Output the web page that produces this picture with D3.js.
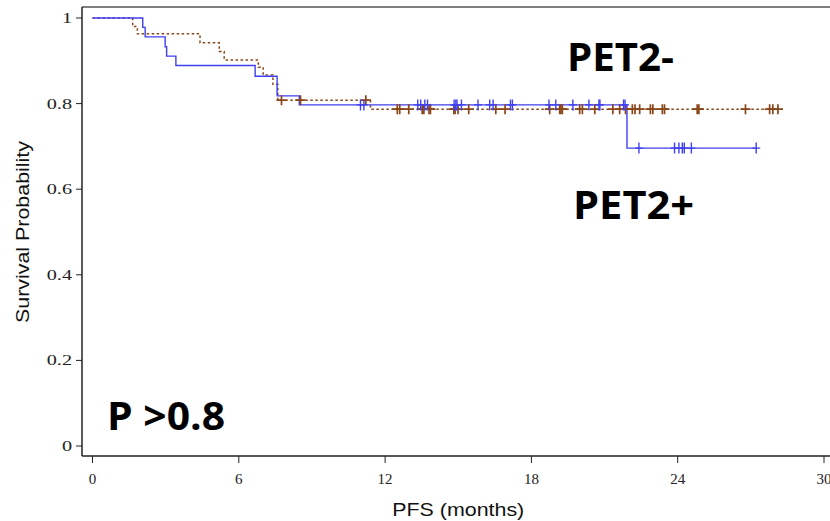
<!DOCTYPE html>
<html>
<head>
<meta charset="utf-8">
<script src="https://cdn.jsdelivr.net/npm/d3@7"></script>
<style>
  body { margin: 0; background: #fff; }
  svg { display: block; }
  .tick-label { font-family: "Liberation Serif", serif; font-size: 15px; fill: #222; }
  .axis-title { font-family: "Liberation Sans", Arial, sans-serif; font-size: 19px; fill: #111; }
  .big-label { font-family: "Open Sans", sans-serif; font-weight: 700; font-size: 39px; fill: #000; }
</style>
</head>
<body>
<svg id="chart" width="830" height="521"></svg>
<script>
// --- Daten ---
const xTicks = [0, 6, 12, 18, 24, 30];
const yTicks = [0, 0.2, 0.4, 0.6, 0.8, 1];

// PET2+ (blau, durchgezogen): Stufen
const blueTimes = [0, 2.06, 2.16, 2.98, 3.04, 3.42, 6.67, 7.57, 8.48, 21.92];
const blueSurv  = [1, 0.978, 0.956, 0.933, 0.911, 0.889, 0.864, 0.818, 0.797, 0.696];
const blueEnd   = 27.25;
const blueCensor = [10.99, 11.13, 13.34, 13.46, 13.63, 13.74, 14.83, 14.9, 14.95, 15.13,
  15.81, 16.29, 16.43, 17.14, 17.22, 18.72, 19.0, 19.7, 20.36, 20.77, 20.81, 21.78, 21.84,
  22.41, 23.87, 24.05, 24.19, 24.27, 24.56, 27.22];

// PET2- (braun, gepunktet): Stufen
const brownTimes = [0, 1.65, 1.84, 4.41, 5.2, 5.4, 6.8, 7.0, 7.4, 7.6, 11.4];
const brownSurv  = [1, 0.980, 0.963, 0.942, 0.922, 0.902, 0.885, 0.867, 0.845, 0.808, 0.787];
const brownEnd   = 28.31;
const brownCensor = [7.75, 8.53, 11.21, 12.5, 12.6, 12.97, 13.52, 13.59, 13.8, 13.86,
  14.82, 14.87, 14.99, 15.43, 16.54, 16.92, 18.75, 19.16, 19.21, 19.27, 19.98, 20.09,
  20.6, 21.34, 21.62, 21.86, 22.14, 22.25, 22.44, 22.88, 22.98, 23.37, 23.46, 24.8,
  24.87, 26.78, 27.77, 27.9, 28.11];

const labels = ["PET2-", "PET2+", "P >0.8"];

// --- Layout ---
const svg = d3.select("#chart");
const frame = { left: 82, top: 7, bottom: 456, right: 830 };

const x = d3.scaleLinear().domain([0, 30]).range([92.5, 824]);
const y = d3.scaleLinear().domain([0, 1]).range([446, 18]);

const BLUE = "#4040f2";
const BROWN = "#8a4619";

// Positionen/Breiten der grossen Beschriftungen
const labelPos = [
  { x: 567, y: 71, w: 107 },
  { x: 573, y: 219, w: 121 },
  { x: 107, y: 430, w: 118 }
];

// Rahmen
svg.append("line")
  .attr("x1", frame.left).attr("x2", frame.right)
  .attr("y1", frame.top).attr("y2", frame.top)
  .attr("stroke", "#555").attr("stroke-width", 1.5);
svg.append("line")
  .attr("x1", frame.left).attr("x2", frame.left)
  .attr("y1", frame.top).attr("y2", frame.bottom)
  .attr("stroke", "#222").attr("stroke-width", 1.5);
svg.append("line")
  .attr("x1", frame.left).attr("x2", frame.right)
  .attr("y1", frame.bottom).attr("y2", frame.bottom)
  .attr("stroke", "#222").attr("stroke-width", 1.5);

// y-Achse
const yAxis = svg.append("g");
yTicks.forEach(t => {
  yAxis.append("line")
    .attr("x1", frame.left - 6).attr("x2", frame.left)
    .attr("y1", y(t)).attr("y2", y(t))
    .attr("stroke", "#222").attr("stroke-width", 1);
  yAxis.append("text")
    .attr("class", "tick-label")
    .attr("transform", `translate(${frame.left - 10},${y(t)}) scale(1.35,1)`)
    .attr("text-anchor", "end")
    .attr("dominant-baseline", "central")
    .text(d3.format("~g")(t));
});

// x-Achse
const xAxis = svg.append("g");
xTicks.forEach(t => {
  xAxis.append("line")
    .attr("x1", x(t)).attr("x2", x(t))
    .attr("y1", frame.bottom).attr("y2", frame.bottom + 7)
    .attr("stroke", "#222").attr("stroke-width", 1);
  xAxis.append("text")
    .attr("class", "tick-label")
    .attr("x", x(t)).attr("y", frame.bottom + 28)
    .attr("text-anchor", "middle")
    .text(t);
});

svg.append("text")
  .attr("class", "axis-title")
  .attr("x", (x(0) + x(30)) / 2 - 66).attr("y", 516)
  .attr("textLength", 132)
  .attr("lengthAdjust", "spacingAndGlyphs")
  .text("PFS (months)");

svg.append("text")
  .attr("class", "axis-title")
  .attr("transform", `translate(29,${(y(0) + y(1)) / 2 + 91}) rotate(-90)`)
  .attr("textLength", 182)
  .attr("lengthAdjust", "spacingAndGlyphs")
  .text("Survival Probability");

// --- Kurven ---
function stepData(times, surv, end) {
  const pts = times.map((t, i) => [t, surv[i]]);
  pts.push([end, surv[surv.length - 1]]);
  return pts;
}
function survAt(times, surv, t) {
  const i = d3.bisectRight(times, t) - 1;
  return surv[Math.max(0, i)];
}

const line = d3.line()
  .x(d => x(d[0]))
  .y(d => y(d[1]))
  .curve(d3.curveStepAfter);

svg.append("path")
  .datum(stepData(brownTimes, brownSurv, brownEnd))
  .attr("d", line)
  .attr("fill", "none")
  .attr("stroke", BROWN)
  .attr("stroke-width", 1.5)
  .attr("stroke-dasharray", "2.5,2.5");

svg.append("path")
  .datum(stepData(blueTimes, blueSurv, blueEnd))
  .attr("d", line)
  .attr("fill", "none")
  .attr("stroke", BLUE)
  .attr("stroke-width", 1.4);

// Zensierungen (+)
function drawCensor(times, sTimes, sSurv, color, h, w, sw) {
  svg.append("g")
    .selectAll("path")
    .data(times)
    .join("path")
    .attr("d", t => {
      const cx = x(t), cy = y(survAt(sTimes, sSurv, t));
      return `M${cx},${cy - h / 2}V${cy + h / 2}M${cx - w / 2},${cy}H${cx + w / 2}`;
    })
    .attr("stroke", color)
    .attr("stroke-width", sw)
    .attr("fill", "none");
}
drawCensor(brownCensor, brownTimes, brownSurv, BROWN, 10, 10, 1.7);
drawCensor(blueCensor, blueTimes, blueSurv, BLUE, 11, 8, 1.4);

// Beschriftungen
svg.append("g")
  .selectAll("text")
  .data(labels)
  .join("text")
  .attr("class", "big-label")
  .attr("x", (d, i) => labelPos[i].x)
  .attr("y", (d, i) => labelPos[i].y)
  .attr("textLength", (d, i) => labelPos[i].w)
  .attr("lengthAdjust", "spacingAndGlyphs")
  .text(d => d);
</script>
</body>
</html>
